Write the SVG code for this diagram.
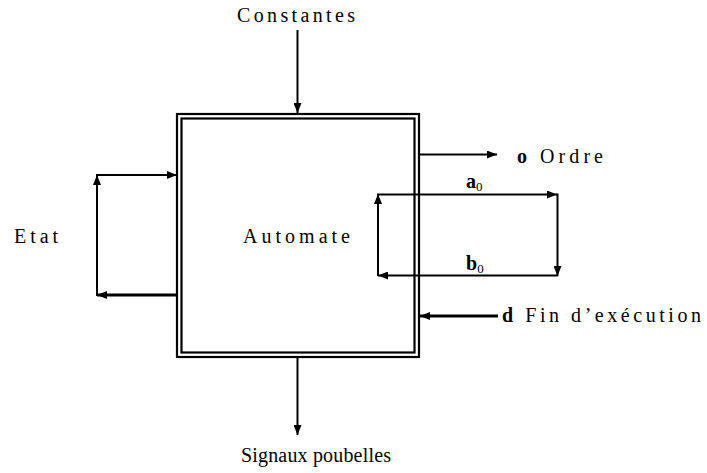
<svg xmlns="http://www.w3.org/2000/svg" width="707" height="473" viewBox="0 0 707 473">
<defs>
<marker id="ah" markerUnits="userSpaceOnUse" markerWidth="10" markerHeight="8" viewBox="0 0 10 8" refX="10" refY="4" orient="auto">
<path d="M0,0 L10,4 L0,8 Z" fill="#000"/>
</marker>
<style>
.t{font-family:"Liberation Serif","DejaVu Serif",serif;font-size:20px;fill:#000}
.b{font-weight:bold}
.s{font-size:13px}
.c{fill:none;stroke:#000;stroke-width:2;marker-end:url(#ah)}
.k{stroke-width:3}
.box{fill:none;stroke:#000;stroke-width:2.2}
</style>
</defs>
<rect width="707" height="473" fill="#fff"/>
<g id="automate">
<rect class="box" x="177" y="114" width="242" height="243"/>
<rect class="box" x="181.5" y="118.5" width="233" height="234"/>
<text class="t" x="243" y="243" textLength="107" lengthAdjust="spacing">Automate</text>
</g>
<g id="constantes">
<text class="t" x="237" y="22" textLength="118" lengthAdjust="spacing">Constantes</text>
</g>
<g id="signaux">
<text class="t" x="241" y="462" textLength="150" lengthAdjust="spacing">Signaux poubelles</text>
</g>
<g id="etat">
<text class="t" x="14" y="243" textLength="44" lengthAdjust="spacing">Etat</text>
</g>
<g id="ordre">
<text class="t" x="517" y="163" textLength="86" lengthAdjust="spacing"><tspan class="b">o</tspan> Ordre</text>
</g>
<g id="fin">
<text class="t" x="502" y="322" textLength="199" lengthAdjust="spacing"><tspan class="b">d</tspan> Fin d’exécution</text>
</g>
<g id="a0">
<text class="t" x="466" y="188"><tspan class="b">a</tspan><tspan class="s" dy="3">0</tspan></text>
</g>
<g id="b0">
<text class="t" x="466" y="270"><tspan class="b">b</tspan><tspan class="s" dy="3">0</tspan></text>
</g>
<g id="connectors">
<line class="c" x1="297.5" y1="30" x2="297.5" y2="113"/>
<line class="c" x1="297.5" y1="357" x2="297.5" y2="435"/>
<line class="c" x1="419" y1="154.5" x2="497" y2="154.5"/>
<line class="c k" x1="498" y1="316" x2="420" y2="316"/>
<line class="c k" x1="177" y1="295" x2="97" y2="295"/>
<line class="c" x1="97" y1="296" x2="97" y2="175"/>
<line class="c" x1="96" y1="175" x2="177" y2="175"/>
<line class="c" x1="377" y1="194.5" x2="557" y2="194.5"/>
<line class="c" x1="557.5" y1="193.5" x2="557.5" y2="276"/>
<line class="c" x1="558" y1="275.5" x2="378" y2="275.5"/>
<line class="c" x1="378" y1="276" x2="378" y2="194"/>
</g>
</svg>
